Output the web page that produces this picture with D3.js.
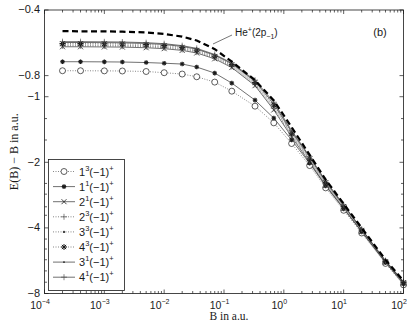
<!DOCTYPE html>
<html>
<head>
<meta charset="utf-8">
<script src="https://cdn.jsdelivr.net/npm/d3@7"></script>
<style>
  body { margin: 0; background: #fff; }
  svg { display: block; }
</style>
</head>
<body>
<div id="chart"></div>
<script>
// magnetic field values (a.u.)
const fieldB = [0.0002, 0.0004, 0.001, 0.002, 0.005, 0.01, 0.02, 0.035, 0.07, 0.135, 0.33, 0.68, 1.35, 2.7, 5, 10, 20, 50, 100];

// E(B) - B for each state
const e13 = [-0.760, -0.760, -0.761, -0.762, -0.766, -0.776, -0.787, -0.810, -0.857, -0.943, -1.105, -1.318, -1.64, -2.07, -2.62, -3.32, -4.22, -5.82, -7.30];
const e11 = [-0.691, -0.691, -0.692, -0.693, -0.697, -0.702, -0.708, -0.731, -0.779, -0.866, -1.037, -1.254, -1.58, -2.02, -2.57, -3.27, -4.17, -5.77, -7.24];
const e21 = [-0.590, -0.590, -0.591, -0.592, -0.596, -0.602, -0.613, -0.630, -0.670, -0.735, -0.89, -1.15, -1.53, -2.00, -2.55, -3.25, -4.15, -5.75, -7.16];
const e23 = [-0.584, -0.584, -0.585, -0.586, -0.590, -0.596, -0.607, -0.624, -0.664, -0.727, -0.88, -1.13, -1.51, -1.97, -2.52, -3.22, -4.13, -5.73, -7.14];
const e33 = [-0.578, -0.578, -0.579, -0.580, -0.584, -0.590, -0.601, -0.618, -0.658, -0.720, -0.87, -1.11, -1.49, -1.95, -2.50, -3.20, -4.11, -5.71, -7.12];
const e43 = [-0.570, -0.570, -0.571, -0.572, -0.576, -0.582, -0.594, -0.611, -0.651, -0.712, -0.86, -1.09, -1.47, -1.93, -2.48, -3.18, -4.09, -5.69, -7.10];
const e31 = [-0.564, -0.564, -0.565, -0.566, -0.570, -0.576, -0.588, -0.605, -0.645, -0.706, -0.85, -1.08, -1.45, -1.90, -2.46, -3.16, -4.07, -5.67, -7.08];
const e41 = [-0.559, -0.559, -0.560, -0.561, -0.565, -0.571, -0.583, -0.600, -0.640, -0.700, -0.84, -1.06, -1.43, -1.88, -2.43, -3.13, -4.05, -5.65, -7.05];
// He+(2p-1) threshold
const eHe = [-0.500, -0.501, -0.501, -0.503, -0.507, -0.515, -0.530, -0.552, -0.605, -0.690, -0.84, -1.04, -1.38, -1.85, -2.40, -3.10, -4.00, -5.60, -7.00];

const stateNames = [['1', '3'], ['1', '1'], ['2', '1'], ['2', '3'], ['3', '3'], ['4', '3'], ['3', '1'], ['4', '1']];
const stateValues = [e13, e11, e21, e23, e33, e43, e31, e41];
const stateMarkers = ['circle', 'star', 'cross', 'plus', 'dot', 'bigstar', 'smalldot', 'plus'];
const stateDotted = [true, false, false, true, true, true, false, false];

const xTicks = [1e-4, 1e-3, 1e-2, 1e-1, 1, 10, 100];
const xTickExp = ['−4', '−3', '−2', '−1', '0', '1', '2'];
const yTicks = [0.4, 0.8, 1, 2, 4, 8];
const yTickLabels = ['−0.4', '−0.8', '−1', '−2', '−4', '−8'];

const W = 407, H = 327;
const plot = { left: 44.5, right: 403.5, top: 10, bottom: 293.5 };

const svg = d3.select('#chart').append('svg').attr('width', W).attr('height', H);

const x = d3.scaleLog().domain([1e-4, 100]).range([plot.left, plot.right]);
const y = d3.scaleLog().domain([0.4, 8]).range([plot.top, plot.bottom]); // plotted as -(E-B)

const ink = '#1a1a1a';

// minor ticks
let xMinor = [];
xTicks.slice(0, -1).forEach(d => {
  for (let k = 2; k <= 9; k++) xMinor.push(d * k);
});
let yMinor = [1.26, 1.58, 2.5, 2.8, 3.2, 3.5, 4.5, 5.0, 5.6, 6.3, 7.1];

const axes = svg.append('g').attr('stroke', ink).attr('stroke-width', 0.7);
xMinor.forEach(v => {
  const px = x(v);
  axes.append('line').attr('x1', px).attr('x2', px).attr('y1', plot.bottom).attr('y2', plot.bottom - 2.5);
  axes.append('line').attr('x1', px).attr('x2', px).attr('y1', plot.top).attr('y2', plot.top + 2.5);
});
xTicks.forEach(v => {
  const px = x(v);
  axes.append('line').attr('x1', px).attr('x2', px).attr('y1', plot.bottom).attr('y2', plot.bottom - 4);
  axes.append('line').attr('x1', px).attr('x2', px).attr('y1', plot.top).attr('y2', plot.top + 4);
});
yMinor.forEach(v => {
  const py = y(v);
  axes.append('line').attr('x1', plot.left).attr('x2', plot.left + 2.5).attr('y1', py).attr('y2', py);
  axes.append('line').attr('x1', plot.right).attr('x2', plot.right - 2.5).attr('y1', py).attr('y2', py);
});
yTicks.forEach(v => {
  const py = y(v);
  axes.append('line').attr('x1', plot.left).attr('x2', plot.left + 4).attr('y1', py).attr('y2', py);
  axes.append('line').attr('x1', plot.right).attr('x2', plot.right - 4).attr('y1', py).attr('y2', py);
});

// tick labels
const tickFont = '"Liberation Sans", Arial, sans-serif';
const xl = svg.append('g').attr('font-family', tickFont).attr('fill', ink);
xTicks.forEach((v, i) => {
  const t = xl.append('text').attr('x', x(v) - 4.5).attr('y', 309).attr('text-anchor', 'middle').attr('font-size', 10.5);
  t.append('tspan').text('10');
  t.append('tspan').attr('dy', -5).attr('font-size', 7).text(xTickExp[i]);
});
const yl = svg.append('g').attr('font-family', tickFont).attr('fill', ink).attr('font-size', 11);
yTicks.forEach((v, i) => {
  yl.append('text').attr('x', 40).attr('y', y(v) + 3.2).attr('text-anchor', 'end').text(yTickLabels[i]);
});

// axis titles
const serif = '"Liberation Serif", "Times New Roman", serif';
svg.append('text').attr('x', 229).attr('y', 320).attr('text-anchor', 'middle')
  .attr('font-family', serif).attr('font-size', 11.5).attr('fill', ink).text('B in a.u.');
svg.append('text').attr('transform', `translate(18,${(plot.top + plot.bottom) / 2}) rotate(-90)`)
  .attr('text-anchor', 'middle').attr('font-family', serif).attr('font-size', 12).attr('fill', ink)
  .text('E(B) − B in a.u.');

// curves
const line = d3.line().x(d => x(d[0])).y(d => y(-d[1]));
const curves = svg.append('g').attr('fill', 'none');

function marker(g, type, cx, cy) {
  const s = g.append('g').attr('transform', `translate(${cx},${cy})`).attr('stroke', ink);
  if (type === 'circle') {
    s.append('circle').attr('r', 3).attr('fill', '#fff').attr('stroke-width', 0.7);
  } else if (type === 'star' || type === 'bigstar') {
    const r = type === 'star' ? 2.3 : 3;
    s.attr('stroke-width', type === 'star' ? 1.2 : 1);
    [0, 45, 90, 135].forEach(a => {
      const rad = a * Math.PI / 180;
      s.append('line').attr('x1', -r * Math.cos(rad)).attr('y1', -r * Math.sin(rad))
        .attr('x2', r * Math.cos(rad)).attr('y2', r * Math.sin(rad));
    });
  } else if (type === 'cross') {
    s.attr('stroke-width', 0.8);
    s.append('line').attr('x1', -2.5).attr('y1', -2.5).attr('x2', 2.5).attr('y2', 2.5);
    s.append('line').attr('x1', -2.5).attr('y1', 2.5).attr('x2', 2.5).attr('y2', -2.5);
  } else if (type === 'plus') {
    s.attr('stroke-width', 0.7).attr('stroke', '#555');
    s.append('line').attr('x1', -3).attr('y1', 0).attr('x2', 3).attr('y2', 0);
    s.append('line').attr('x1', 0).attr('y1', -3).attr('x2', 0).attr('y2', 3);
  } else if (type === 'dot') {
    s.append('circle').attr('r', 1.2).attr('fill', '#444').attr('stroke', 'none');
  } else if (type === 'smalldot') {
    s.append('circle').attr('r', 0.9).attr('fill', ink).attr('stroke', 'none');
  }
}

stateValues.forEach((vals, i) => {
  const pts = fieldB.map((b, j) => [b, vals[j]]);
  curves.append('path').datum(pts).attr('d', line)
    .attr('stroke', stateDotted[i] ? '#555' : '#333')
    .attr('stroke-width', 0.7)
    .attr('stroke-dasharray', stateDotted[i] ? '1,1.5' : null);
});
const marks = svg.append('g');
stateValues.forEach((vals, i) => {
  fieldB.forEach((b, j) => marker(marks, stateMarkers[i], x(b), y(-vals[j])));
});

// He+(2p-1) threshold
svg.append('path').datum(fieldB.map((b, j) => [b, eHe[j]])).attr('d', line)
  .attr('fill', 'none').attr('stroke', '#000').attr('stroke-width', 2.2).attr('stroke-dasharray', '6,3.5');

// annotation
svg.append('line').attr('x1', 232).attr('y1', 35).attr('x2', 213).attr('y2', 44)
  .attr('stroke', ink).attr('stroke-width', 0.6);
const ann = svg.append('text').attr('x', 235).attr('y', 36).attr('font-family', tickFont)
  .attr('font-size', 10).attr('fill', ink);
ann.append('tspan').text('He');
ann.append('tspan').attr('dy', -4).attr('font-size', 7).text('+');
ann.append('tspan').attr('dy', 4).text('(2p');
ann.append('tspan').attr('dy', 3).attr('font-size', 7).text('−1');
ann.append('tspan').attr('dy', -3).text(')');

svg.append('text').attr('x', 380).attr('y', 36).attr('text-anchor', 'middle')
  .attr('font-family', tickFont).attr('font-size', 11).attr('fill', ink).text('(b)');

// frame
svg.append('rect').attr('x', plot.left).attr('y', plot.top)
  .attr('width', plot.right - plot.left).attr('height', plot.bottom - plot.top)
  .attr('fill', 'none').attr('stroke', ink).attr('stroke-width', 0.8);

// legend
const lg = svg.append('g');
lg.append('rect').attr('x', 48.5).attr('y', 159.5).attr('width', 76).attr('height', 131)
  .attr('fill', '#fff').attr('stroke', ink).attr('stroke-width', 0.8);
stateNames.forEach((nm, i) => {
  const ly = 171.5 + i * 15.1;
  lg.append('line').attr('x1', 53).attr('x2', 75).attr('y1', ly).attr('y2', ly)
    .attr('stroke', stateDotted[i] ? '#555' : '#333').attr('stroke-width', 0.7)
    .attr('stroke-dasharray', stateDotted[i] ? '1,1.5' : null);
  marker(lg, stateMarkers[i], 64, ly);
  const t = lg.append('text').attr('x', 79).attr('y', ly + 4).attr('font-family', tickFont)
    .attr('font-size', 11).attr('fill', ink);
  t.append('tspan').text(nm[0]);
  t.append('tspan').attr('dy', -5).attr('font-size', 7.5).text(nm[1]);
  t.append('tspan').attr('dy', 5).text('(−1)');
  t.append('tspan').attr('dy', -5).attr('font-size', 7.5).text('+');
});
</script>
</body>
</html>
